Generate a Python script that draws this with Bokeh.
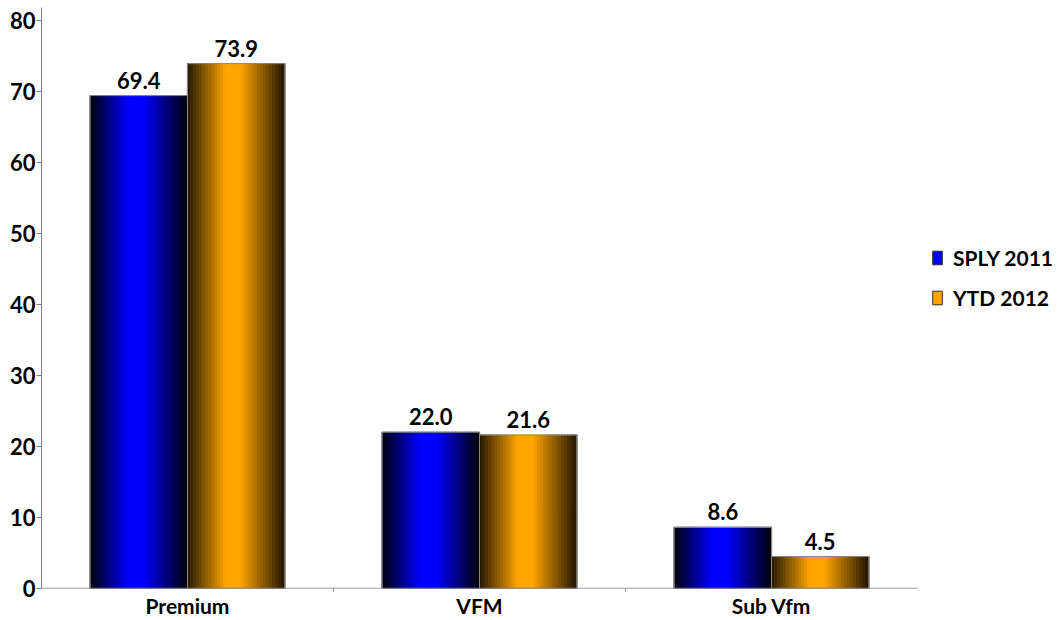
import numpy as np
from bokeh.plotting import figure
from bokeh.models import FixedTicker, Legend, LegendItem, Range1d, ColumnDataSource, LabelSet
from bokeh.core.properties import value
from bokeh.embed import file_html
from bokeh.resources import INLINE

categories = ["Premium", "VFM", "Sub Vfm"]
sply_2011 = [69.4, 22.0, 8.6]
ytd_2012 = [73.9, 21.6, 4.5]
series_names = ["SPLY 2011", "YTD 2012"]
series_colors = [(0, 0, 255), (255, 165, 0)]
edge_colors = [(0, 0, 10), (35, 22, 0)]

FONT = "Lato"
W, H = 1058, 620
LEFT, TOP, BOTTOM = 41, 7, 32
PX_PER_CAT = 292

x_end = -0.5 + (W - LEFT - 1) / PX_PER_CAT
p = figure(width=W, height=H, output_backend="svg", toolbar_location=None,
           x_range=Range1d(-0.5, x_end), y_range=Range1d(0, 81.8),
           min_border_left=LEFT, min_border_right=1, min_border_top=TOP, min_border_bottom=BOTTOM)
p.outline_line_color = None
p.grid.grid_line_color = None

def grad(t, c, e):
    f = np.clip(min(t / 0.40, (1 - t) / 0.45), 0, 1)
    r, g, b = [int(round(e[i] + (c[i] - e[i]) * f)) for i in range(3)]
    return "#%02x%02x%02x" % (r, g, b)

N = 32
bw = 1.0 / 3.0
renderers = []
for si, vals in enumerate([sply_2011, ytd_2012]):
    L, R, T, C = [], [], [], []
    for ci, v in enumerate(vals):
        left = ci - bw + si * bw
        for k in range(N):
            t = (k + 0.5) / N
            L.append(left + k * bw / N)
            R.append(left + (k + 1) * bw / N)
            T.append(v)
            C.append(grad(t, series_colors[si], edge_colors[si]))
    src = ColumnDataSource(dict(left=L, right=R, top=T, bottom=[0] * len(L), color=C))
    p.quad(left="left", right="right", top="top", bottom="bottom", fill_color="color",
           line_color="color", line_width=1.2, source=src)
    lefts = [ci - bw + si * bw for ci in range(len(vals))]
    p.quad(left=lefts, right=[l + bw for l in lefts], top=vals, bottom=[0] * len(vals),
           fill_color=None, line_color="#8a8a8a", line_width=1)
    lsrc = ColumnDataSource(dict(x=[l + bw / 2 for l in lefts], y=vals,
                                 t=["%.1f" % v for v in vals]))
    p.add_layout(LabelSet(x="x", y="y", text="t", source=lsrc, text_align="center",
                          text_baseline="bottom", y_offset=7, text_font=value(FONT),
                          text_font_style="bold", text_font_size="22px", text_color="black"))
    lr = p.quad(left=[0], right=[0.01], top=[-100], bottom=[-101],
                fill_color=grad(0.45, series_colors[si], edge_colors[si]), line_color="#303030")
    renderers.append(lr)

p.segment(x0=[-0.5], x1=[2.5], y0=[0], y1=[0], line_color="#7f7f7f", line_width=1.5)

legend = Legend(items=[LegendItem(label=series_names[i], renderers=[renderers[i]]) for i in range(2)],
                location=(890, 278), label_text_font=FONT, label_text_font_style="bold",
                label_text_font_size="21px", label_text_color="black",
                border_line_color=None, background_fill_alpha=0,
                spacing=14, glyph_width=12, glyph_height=17, label_standoff=10, padding=0, margin=0,
                label_height=26)
p.add_layout(legend, "center")

p.yaxis.ticker = FixedTicker(ticks=list(range(0, 81, 10)))
p.xaxis.ticker = FixedTicker(ticks=[0, 1, 2], minor_ticks=[0.5, 1.5])
p.xaxis.major_label_overrides = {i: c for i, c in enumerate(categories)}
p.xaxis.axis_line_color = None
p.xaxis.major_tick_line_color = None
p.xaxis.minor_tick_line_color = "#7f7f7f"
p.xaxis.minor_tick_in = 0
p.xaxis.minor_tick_out = 3
p.xaxis.major_tick_out = 0
p.yaxis.axis_line_color = "#7f7f7f"
p.yaxis.major_tick_line_color = "#7f7f7f"
p.yaxis.minor_tick_line_color = None
p.yaxis.major_tick_in = 0
p.yaxis.major_tick_out = 5
for ax in [p.xaxis, p.yaxis]:
    ax.major_label_text_font = FONT
    ax.major_label_text_font_style = "bold"
    ax.major_label_text_color = "black"
p.yaxis.major_label_text_font_size = "22px"
p.xaxis.major_label_text_font_size = "21px"
p.xaxis.major_label_standoff = 1
p.yaxis.major_label_standoff = 1

open("out.html", "w").write(file_html(p, INLINE))
